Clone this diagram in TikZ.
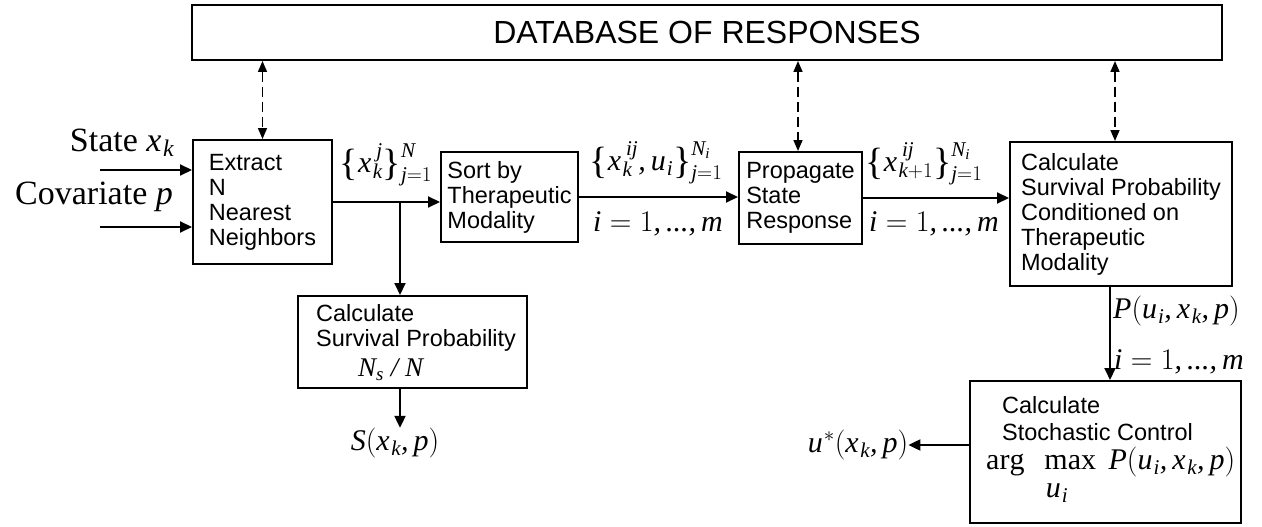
\RequirePackage{fix-cm}
\documentclass[tikz,border=0pt]{standalone}
\usepackage{fontspec}
\setmainfont{Liberation Serif}
\setsansfont{Liberation Sans}
\DeclareSymbolFont{operators}{TU}{\rmdefault}{m}{n}
\DeclareSymbolFont{letters}{TU}{\rmdefault}{m}{it}
\AtBeginDocument{%
  \mathcode`,="612C
  \mathcode`.="012E
  \mathcode`/="012F}
\newcommand{\vx}{x\kern1.5pt}
\newcommand{\vu}{u\kern1pt}
\newcommand{\lbr}{\mathopen{\vcenter{\hbox{\fontsize{38}{38}\selectfont\{}}}}
\newcommand{\rbr}{\mathclose{\vcenter{\hbox{\fontsize{38}{38}\selectfont\}}}}}
\usetikzlibrary{arrows.meta}
\begin{document}
\begin{tikzpicture}[x=1pt,y=-1pt,
  box/.style={draw, line width=2pt, inner sep=0pt, align=left,
    font=\sffamily\fontsize{23.5}{25}\selectfont},
  txt/.style={inner sep=0pt, anchor=west, font=\sffamily\fontsize{23.5}{25}\selectfont},
  arr/.style={line width=2pt, -{Triangle[length=12pt,width=11pt]}},
  darr/.style={line width=1.6pt, dash pattern=on 10pt off 5pt,
    {Triangle[length=11pt,width=9pt]}-{Triangle[length=11pt,width=9pt]}},
  lbl/.style={inner sep=0pt, font=\fontsize{30}{32}\selectfont},
  big/.style={inner sep=0pt, font=\fontsize{34}{36}\selectfont}]
\useasboundingbox (0,0) rectangle (1262,527);

% boxes
\node[box, minimum width=1030pt, minimum height=55pt,
  font=\sffamily\fontsize{32}{34}\selectfont] (db) at (707,32.5) {DATABASE OF RESPONSES};
\node[box, minimum width=139pt, minimum height=124pt] (ext) at (262.5,202) {Extract\\N\\Nearest\\Neighbors};
\node[box, minimum width=137pt, minimum height=90pt] (sort) at (509.5,197) {Sort by\\Therapeutic\\Modality};
\node[box, minimum width=123pt, minimum height=92pt] (prop) at (800.5,198) {Propagate\\State\\Response};
\node[box, minimum width=222pt, minimum height=144pt] (calc) at (1121,214)
  {Calculate\\Survival Probability\\Conditioned on\\Therapeutic\\Modality};
\node[box, minimum width=229pt, minimum height=92pt] (surv) at (412.5,342) {};
\node[box, minimum width=271pt, minimum height=142pt] (stoch) at (1105.5,452) {};

% texts inside the survival box
\node[txt] (sv1) at (316,313) {Calculate};
\node[txt] (sv2) at (316,340) {Survival Probability};
\node[lbl, anchor=west, font=\fontsize{27}{29}\selectfont] (sv3) at (358,370) {$N_s\ /\ N$};

% texts inside the stochastic box
\node[txt] (st1) at (1002,405) {Calculate};
\node[txt] (st2) at (1002,432) {Stochastic Control};
\node[lbl, anchor=west] (st3) at (986,462) {$\mathrm{arg}\ \ \max\ P(\vu_i,\vx_k,p)$};
\node[lbl] (st4) at (1057,493) {$\vu_i$};

% input labels
\node[big] (state) at (122,143) {State $\vx_k$};
\node[big] (cov) at (94,197) {Covariate $p$};
\coordinate (in1) at (100,170);
\coordinate (in2) at (100,227);
\draw[arr] (in1) -- (in1 -| ext.west);
\draw[arr] (in2) -- (in2 -| ext.west);

% dashed database links
\coordinate (d2) at (798,0);
\coordinate (d3) at (1115,0);
\draw[darr] (db.south -| ext.north) -- (ext.north);
\draw[darr] (d2 |- db.south) -- (d2 |- prop.north);
\draw[darr] (d3 |- db.south) -- (d3 |- calc.north);

% main flow
\coordinate (br) at (400,202);
\draw[arr] (ext.east) -- (ext.east -| sort.west);
\draw[arr] (br) -- (br |- surv.north);
\draw[arr] (sort.east) -- (sort.east -| prop.west);
\draw[arr] (prop.east) -- (prop.east -| calc.west);

\node[lbl] (l1) at (386,165) {$\lbr \vx_k^{\,j}\rbr_{j=1}^{N}$};
\node[lbl] (l2) at (656,163) {$\lbr \vx_k^{\,ij},\vu_i\rbr_{j=1}^{N_i}$};
\node[lbl] (l3) at (658,224) {$i=1,...,m$};
\node[lbl] (l4) at (924,164) {$\lbr \vx_{k+1}^{\,ij}\rbr_{j=1}^{N_i}$};
\node[lbl] (l5) at (934,224) {$i=1,...,m$};

% survival output
\node[lbl] (S) at (395,443) {$S(\vx_k,p)$};
\draw[arr] (br |- surv.south) -- (br |- S.north);

% down to stochastic control
\coordinate (c1) at (1110,0);
\draw[arr] (c1 |- calc.south) -- (c1 |- stoch.north);
\node[lbl, anchor=west] (P) at (1113,311) {$P(\vu_i,\vx_k,p)$};
\node[lbl, anchor=west] (im) at (1114,362) {$i=1,...,m$};

% optimal control output
\node[lbl] (u) at (858,445) {$\vu^{*}(\vx_k,p)$};
\draw[arr] (stoch.west |- u) -- (u.east);
\end{tikzpicture}
\end{document}
